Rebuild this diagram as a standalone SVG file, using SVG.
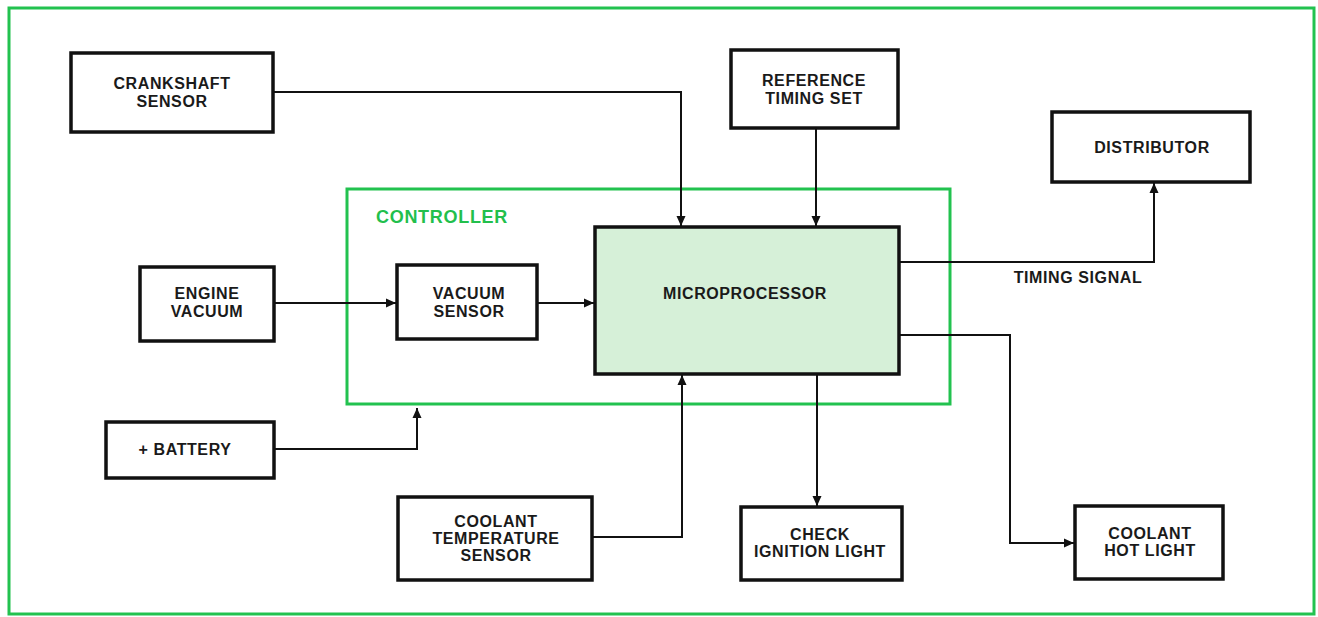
<svg xmlns="http://www.w3.org/2000/svg" width="1318" height="617" viewBox="0 0 1318 617">
<defs>
<style>
.box{fill:#fff;stroke:#111;stroke-width:3.5}
.micro{fill:#d6f0d8;stroke:#111;stroke-width:3.5}
.lbl{font-family:"Liberation Sans",Arial,sans-serif;font-weight:bold;font-size:16px;letter-spacing:0.6px;fill:#1a1a1a;text-anchor:middle;dominant-baseline:central}
.ctl{font-family:"Liberation Sans",Arial,sans-serif;font-weight:bold;font-size:18px;letter-spacing:0.7px;fill:#22bf4c;dominant-baseline:central}
.wire{fill:none;stroke:#111;stroke-width:2}
.green{fill:none;stroke:#22c24f;stroke-width:3}
</style>
<marker id="arr" viewBox="0 0 10 10" refX="10" refY="5" markerWidth="10" markerHeight="10" markerUnits="userSpaceOnUse" orient="auto">
<path d="M0,0.5 L10,5 L0,9.5 Z" fill="#111"/>
</marker>
</defs>
<rect width="1318" height="617" fill="#fff"/>
<rect x="9" y="8" width="1305" height="606" class="green"/>

<g id="controller">
<rect x="347" y="189" width="603" height="215" class="green"/>
<text class="ctl" x="376" y="217">CONTROLLER</text>
</g>

<g id="connectors">
<path class="wire" d="M273,92 H681 V226" marker-end="url(#arr)"/>
<path class="wire" d="M816,128 V226" marker-end="url(#arr)"/>
<path class="wire" d="M274,303 H396" marker-end="url(#arr)"/>
<path class="wire" d="M537,303 H594" marker-end="url(#arr)"/>
<path class="wire" d="M274,449 H417 V408" marker-end="url(#arr)"/>
<path class="wire" d="M592,537 H682 V375" marker-end="url(#arr)"/>
<path class="wire" d="M817,375 V506" marker-end="url(#arr)"/>
<path class="wire" d="M900,262 H1154 V183" marker-end="url(#arr)"/>
<path class="wire" d="M900,335 H1010 V543 H1074" marker-end="url(#arr)"/>
<text class="lbl" x="1078" y="277">TIMING SIGNAL</text>
</g>

<g id="crankshaft">
<rect x="71" y="53" width="202" height="79" class="box"/>
<text class="lbl" x="172" y="83">CRANKSHAFT</text>
<text class="lbl" x="172" y="101">SENSOR</text>
</g>

<g id="reference">
<rect x="731" y="50" width="167" height="78" class="box"/>
<text class="lbl" x="814" y="80">REFERENCE</text>
<text class="lbl" x="814" y="98">TIMING SET</text>
</g>

<g id="distributor">
<rect x="1052" y="112" width="198" height="70" class="box"/>
<text class="lbl" x="1152" y="147">DISTRIBUTOR</text>
</g>

<g id="engine-vacuum">
<rect x="140" y="267" width="134" height="74" class="box"/>
<text class="lbl" x="207" y="293">ENGINE</text>
<text class="lbl" x="207" y="311">VACUUM</text>
</g>

<g id="vacuum-sensor">
<rect x="397" y="265" width="140" height="74" class="box"/>
<text class="lbl" x="469" y="293">VACUUM</text>
<text class="lbl" x="469" y="311">SENSOR</text>
</g>

<g id="microprocessor">
<rect x="595" y="227" width="304" height="147" class="micro"/>
<text class="lbl" x="745" y="293">MICROPROCESSOR</text>
</g>

<g id="battery">
<rect x="106" y="422" width="168" height="56" class="box"/>
<text class="lbl" x="185" y="449">+ BATTERY</text>
</g>

<g id="coolant-temp">
<rect x="398" y="497" width="194" height="83" class="box"/>
<text class="lbl" x="496" y="521">COOLANT</text>
<text class="lbl" x="496" y="538">TEMPERATURE</text>
<text class="lbl" x="496" y="555">SENSOR</text>
</g>

<g id="check-ignition">
<rect x="741" y="507" width="161" height="73" class="box"/>
<text class="lbl" x="820" y="534">CHECK</text>
<text class="lbl" x="820" y="551">IGNITION LIGHT</text>
</g>

<g id="coolant-hot">
<rect x="1075" y="506" width="148" height="73" class="box"/>
<text class="lbl" x="1150" y="533">COOLANT</text>
<text class="lbl" x="1150" y="550">HOT LIGHT</text>
</g>
</svg>
